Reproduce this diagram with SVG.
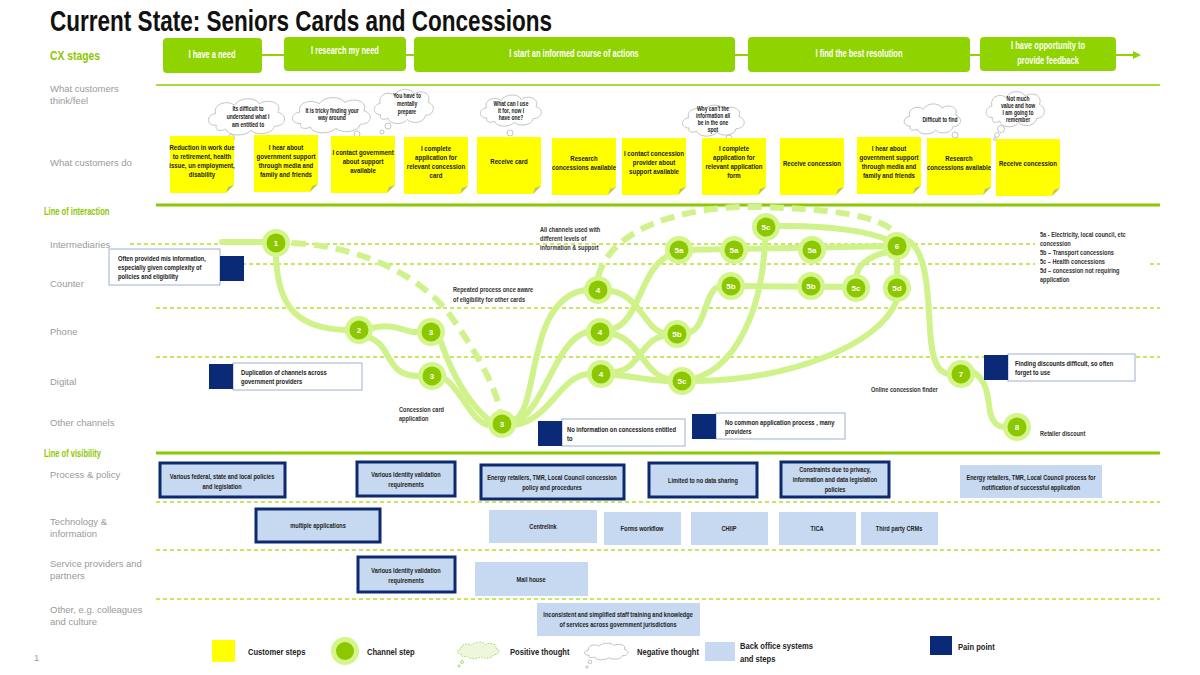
<svg xmlns="http://www.w3.org/2000/svg" xmlns:xlink="http://www.w3.org/1999/xlink" width="1200" height="675" viewBox="0 0 1200 675">
<style>
text{font-family:"Liberation Sans",Arial,sans-serif}
.c{transform-box:fill-box;transform-origin:50% 50%}
.l{transform-box:fill-box;transform-origin:0% 50%}
.title{font-size:29px;font-weight:bold;fill:#111}
.stage{fill:#8fd400}
.st{font-size:10px;font-weight:bold;fill:#fff;text-anchor:middle;transform:scaleX(.75)}
.lbl{font-size:9.5px;fill:#9a9a9a}
.glbl{font-size:10.5px;font-weight:bold;fill:#8cc800;transform:scaleX(.72)}
.note{fill:#ffff00}
.fold{fill:#b9c46a}
.nt{font-size:8px;font-weight:bold;fill:#222;text-anchor:middle;transform:scaleX(.76)}
.cloud{fill:#fff;stroke:#c4c4c4;stroke-width:1}
.ct{font-size:6.4px;font-weight:bold;fill:#222;text-anchor:middle;transform:scaleX(.78)}
.dash{stroke:#b6e02c;stroke-width:1.3;stroke-dasharray:4 3;fill:none}
.ch{fill:none;stroke:#d0f28a;stroke-width:6;stroke-linecap:round}
.chd{fill:none;stroke:#d0f28a;stroke-width:6;stroke-dasharray:14 8}
.ring{fill:#d4f58c}
.core{fill:#8cc800}
.nl{font-size:8px;font-weight:bold;fill:#fff;text-anchor:middle}
.pp{fill:#0a2a78}
.ppbox{fill:#fff;stroke:#9fb0cf;stroke-width:1}
.pt{font-size:7px;font-weight:bold;fill:#222;transform:scaleX(.83)}
.bo{fill:#c6d9f1}
.bob{fill:#c6d9f1;stroke:#0d2a6e;stroke-width:3}
.bt{font-size:7px;font-weight:bold;fill:#222;text-anchor:middle;transform:scaleX(.8)}
.ann{font-size:7px;font-weight:bold;fill:#333;transform:scaleX(.8)}
.lg{font-size:9.5px;font-weight:bold;fill:#222;transform:scaleX(.8)}
.bub{fill:#fff;stroke:#c4c4c4;stroke-width:1}
</style>
<defs>
<path id="cloudp" vector-effect="non-scaling-stroke" d="M15 45 C2 45 2 30 14 28 C10 14 28 8 36 16 C42 4 62 4 66 14 C76 6 94 12 88 26 C100 30 98 46 84 46 C82 58 62 60 56 52 C48 62 28 60 26 50 C20 54 12 52 15 45 Z"/>
<g id="note"><path class="note" d="M0 0 H64 V49 L56 57 H0 Z"/><path class="fold" d="M56 57 L64 49 L58 51 Z"/></g>
<g id="node"><circle class="ring" r="14"/><circle class="core" r="9.5"/></g>
</defs>

<g id="header">
<text class="title" x="50" y="31" textLength="502" lengthAdjust="spacingAndGlyphs">Current State: Seniors Cards and Concessions</text>
<text x="50" y="60" font-size="12" font-weight="bold" fill="#8cc800" textLength="50" lengthAdjust="spacingAndGlyphs">CX stages</text>
</g>

<g id="stages">
<line x1="262" y1="55" x2="284" y2="55" stroke="#8fd400" stroke-width="2"/>
<line x1="406" y1="55" x2="414" y2="55" stroke="#8fd400" stroke-width="2"/>
<line x1="735" y1="55" x2="748" y2="55" stroke="#8fd400" stroke-width="2"/>
<line x1="970" y1="55" x2="980" y2="55" stroke="#8fd400" stroke-width="2"/>
<line x1="1116" y1="55" x2="1134" y2="55" stroke="#8fd400" stroke-width="2"/>
<polygon points="1133,51 1141,55 1133,59" fill="#8fd400"/>
<g id="stage1"><rect class="stage" x="163" y="38" width="99" height="35" rx="4"/><text class="st c" x="212" y="58">I have a need</text></g>
<g id="stage2"><rect class="stage" x="284" y="37" width="122" height="34" rx="4"/><text class="st c" x="345" y="54">I research my need</text></g>
<g id="stage3"><rect class="stage" x="414" y="37" width="321" height="35" rx="4"/><text class="st c" x="574" y="57">I start an informed course of actions</text></g>
<g id="stage4"><rect class="stage" x="748" y="37" width="222" height="35" rx="4"/><text class="st c" x="859" y="57">I find the best resolution</text></g>
<g id="stage5"><rect class="stage" x="980" y="37" width="136" height="34" rx="4"/><text class="st c" x="1048" y="49">I have opportunity to</text><text class="st c" x="1048" y="64">provide feedback</text></g>
</g>

<g id="lanes">
<line x1="156" y1="85" x2="1160" y2="85" stroke="#a8dc3c" stroke-width="2"/>
<line x1="156" y1="205" x2="1160" y2="205" stroke="#8cc800" stroke-width="3"/>
<line x1="156" y1="453" x2="1160" y2="453" stroke="#8cc800" stroke-width="3"/>
<path class="dash" d="M130 244 H1035 M130 264 H1035 M1150 264 H1160 M156 308 H1160 M156 357 H1160 M156 502 H1160 M156 550 H1160 M156 599 H1160"/>
<text class="lbl" x="50" y="92">What customers</text>
<text class="lbl" x="50" y="104">think/feel</text>
<text class="lbl" x="50" y="166">What customers do</text>
<text class="glbl l" x="44" y="215">Line of interaction</text>
<text class="lbl" x="50" y="248">Intermediaries</text>
<text class="lbl" x="50" y="287">Counter</text>
<text class="lbl" x="50" y="335">Phone</text>
<text class="lbl" x="50" y="385">Digital</text>
<text class="lbl" x="50" y="426">Other channels</text>
<text class="glbl l" x="44" y="457">Line of visibility</text>
<text class="lbl" x="50" y="478">Process &amp; policy</text>
<text class="lbl" x="50" y="525">Technology &amp;</text>
<text class="lbl" x="50" y="537">information</text>
<text class="lbl" x="50" y="567">Service providers and</text>
<text class="lbl" x="50" y="579">partners</text>
<text class="lbl" x="50" y="613">Other, e.g. colleagues</text>
<text class="lbl" x="50" y="625">and culture</text>
<text class="lbl" x="34" y="661" font-size="8">1</text>
</g>

<g id="thoughts">
<g id="cloud1"><use href="#cloudp" class="cloud" transform="translate(204,94) scale(0.84,0.7)"/><circle class="bub" cx="231" cy="138" r="3.5"/><circle class="bub" cx="227" cy="144" r="2.3"/>
<text class="ct c" x="248" y="111">Its difficult to</text><text class="ct c" x="248" y="119">understand what I</text><text class="ct c" x="248" y="127">am entitled to</text></g>
<g id="cloud2"><use href="#cloudp" class="cloud" transform="translate(288,93) scale(0.86,0.68)"/><circle class="bub" cx="357" cy="134" r="3"/><circle class="bub" cx="363" cy="139" r="2"/><circle class="bub" cx="367" cy="143" r="1.4"/>
<text class="ct c" x="332" y="113">It is tricky finding your</text><text class="ct c" x="332" y="120">way around</text></g>
<g id="cloud3"><use href="#cloudp" class="cloud" transform="translate(371,85) scale(0.65,0.66)"/><circle class="bub" cx="388" cy="126" r="3"/><circle class="bub" cx="382" cy="132" r="2"/><circle class="bub" cx="378" cy="138" r="1.4"/>
<text class="ct c" x="407" y="98">You have to</text><text class="ct c" x="407" y="106">mentally</text><text class="ct c" x="407" y="114">prepare</text></g>
<g id="cloud4"><use href="#cloudp" class="cloud" transform="translate(477,91) scale(0.67,0.6)"/><circle class="bub" cx="510" cy="133" r="3"/><circle class="bub" cx="510" cy="140" r="2"/><circle class="bub" cx="510" cy="146" r="1.4"/>
<text class="ct c" x="511" y="106">What can I use</text><text class="ct c" x="511" y="113">it for, now I</text><text class="ct c" x="511" y="120">have one?</text></g>
<g id="cloud5"><use href="#cloudp" class="cloud" transform="translate(679,101) scale(0.68,0.6)"/><circle class="bub" cx="729" cy="138" r="3"/><circle class="bub" cx="734" cy="142" r="2"/><circle class="bub" cx="737" cy="146" r="1.4"/>
<text class="ct c" x="713" y="111">Why can't the</text><text class="ct c" x="713" y="118">information all</text><text class="ct c" x="713" y="125">be in the one</text><text class="ct c" x="713" y="132">spot</text></g>
<g id="cloud6"><use href="#cloudp" class="cloud" transform="translate(901,100) scale(0.62,0.58)"/><circle class="bub" cx="955" cy="135" r="3"/><circle class="bub" cx="958" cy="140" r="2"/><circle class="bub" cx="962" cy="143" r="1.4"/>
<text class="ct c" x="940" y="122">Difficult to find</text></g>
<g id="cloud7"><use href="#cloudp" class="cloud" transform="translate(983,87) scale(0.64,0.68)"/><circle class="bub" cx="1001" cy="129" r="3.5"/><circle class="bub" cx="997" cy="135" r="2.3"/><circle class="bub" cx="995" cy="139" r="1.4"/>
<text class="ct c" x="1018" y="101">Not much</text><text class="ct c" x="1018" y="108">value and how</text><text class="ct c" x="1018" y="115">I am going to</text><text class="ct c" x="1018" y="122">remember</text></g>
</g>

<g id="steps">
<g id="step1"><use href="#note" x="170" y="136"/><text class="nt c" x="202" y="150">Reduction in work due</text><text class="nt c" x="202" y="159">to retirement, health</text><text class="nt c" x="202" y="168">issue, un employment,</text><text class="nt c" x="202" y="177">disability</text></g>
<g id="step2"><use href="#note" x="254" y="135"/><text class="nt c" x="286" y="150">I hear about</text><text class="nt c" x="286" y="159">government support</text><text class="nt c" x="286" y="168">through media and</text><text class="nt c" x="286" y="177">family and friends</text></g>
<g id="step3"><use href="#note" x="331" y="136"/><text class="nt c" x="363" y="155">I contact government</text><text class="nt c" x="363" y="164">about support</text><text class="nt c" x="363" y="173">available</text></g>
<g id="step4"><use href="#note" x="404" y="137"/><text class="nt c" x="436" y="151">I complete</text><text class="nt c" x="436" y="160">application for</text><text class="nt c" x="436" y="169">relevant concession</text><text class="nt c" x="436" y="178">card</text></g>
<g id="step5"><use href="#note" x="477" y="137"/><text class="nt c" x="509" y="164">Receive card</text></g>
<g id="step6"><use href="#note" x="552" y="138"/><text class="nt c" x="584" y="161">Research</text><text class="nt c" x="584" y="170">concessions available</text></g>
<g id="step7"><use href="#note" x="622" y="138"/><text class="nt c" x="654" y="156">I contact concession</text><text class="nt c" x="654" y="165">provider about</text><text class="nt c" x="654" y="174">support available</text></g>
<g id="step8"><use href="#note" x="702" y="138"/><text class="nt c" x="734" y="151">I complete</text><text class="nt c" x="734" y="160">application for</text><text class="nt c" x="734" y="169">relevant application</text><text class="nt c" x="734" y="178">form</text></g>
<g id="step9"><use href="#note" x="780" y="138"/><text class="nt c" x="812" y="166">Receive concession</text></g>
<g id="step10"><use href="#note" x="857" y="137"/><text class="nt c" x="889" y="151">I hear about</text><text class="nt c" x="889" y="160">government support</text><text class="nt c" x="889" y="169">through media and</text><text class="nt c" x="889" y="178">family and friends</text></g>
<g id="step11"><use href="#note" x="927" y="138"/><text class="nt c" x="959" y="161">Research</text><text class="nt c" x="959" y="170">concessions available</text></g>
<g id="step12"><use href="#note" x="996" y="139"/><text class="nt c" x="1028" y="166">Receive concession</text></g>
</g>

<g id="connectors">
<path class="ch" d="M222 242 L262 242"/>
<path class="chd" d="M292 243 C360 246 420 275 450 315 C475 350 495 385 500 410"/>
<path class="ch" d="M276 257 C278 310 300 328 345 330"/>
<path class="ch" d="M372 328 C395 322 405 333 417 332"/>
<path class="ch" d="M370 338 C392 345 385 376 418 376"/>
<path class="ch" d="M441 342 C452 375 470 405 489 420"/>
<path class="ch" d="M444 378 C462 390 470 420 488 425"/>
<path class="ch" d="M514 420 C540 410 525 300 585 290"/>
<path class="ch" d="M514 423 C545 410 555 340 587 332"/>
<path class="ch" d="M514 425 C550 420 560 376 588 374"/>
<path class="chd" d="M598 277 C610 230 680 205 760 207 C830 209 880 215 895 233"/>
<path class="ch" d="M611 291 C640 295 645 330 664 333"/>
<path class="ch" d="M613 329 C640 320 640 270 668 256"/>
<path class="ch" d="M613 334 C640 340 645 376 669 379"/>
<path class="ch" d="M614 372 C640 370 640 340 664 336"/>
<path class="ch" d="M614 375 C640 377 650 381 669 381"/>
<path class="ch" d="M679 250 L897 246"/>
<path class="ch" d="M690 332 C705 328 705 292 718 287"/>
<path class="ch" d="M731 286 L856 287"/>
<path class="ch" d="M765 240 C763 300 740 375 682 381"/>
<path class="ch" d="M779 226 C830 225 870 232 888 240"/>
<path class="ch" d="M888 252 C868 256 858 266 857 274"/>
<path class="ch" d="M897 259 L897 274"/>
<path class="ch" d="M695 381 C790 380 880 345 897 300"/>
<path class="ch" d="M909 241 C926 252 928 290 930 330 C932 362 938 372 948 374"/>
<path class="ch" d="M973 372 C988 380 988 400 990 412 C993 424 998 427 1005 427"/>
</g>

<g id="channels">
<g id="n1" transform="translate(276,243)"><use href="#node"/><text class="nl" y="3">1</text></g>
<g id="n2" transform="translate(359,330)"><use href="#node"/><text class="nl" y="3">2</text></g>
<g id="n3a" transform="translate(431,332)"><use href="#node"/><text class="nl" y="3">3</text></g>
<g id="n3b" transform="translate(432,376)"><use href="#node"/><text class="nl" y="3">3</text></g>
<g id="n3c" transform="translate(502,424)"><use href="#node"/><text class="nl" y="3">3</text></g>
<g id="n4a" transform="translate(598,290)"><use href="#node"/><text class="nl" y="3">4</text></g>
<g id="n4b" transform="translate(600,332)"><use href="#node"/><text class="nl" y="3">4</text></g>
<g id="n4c" transform="translate(601,374)"><use href="#node"/><text class="nl" y="3">4</text></g>
<g id="n5a1" transform="translate(679,250)"><use href="#node"/><text class="nl" y="3">5a</text></g>
<g id="n5a2" transform="translate(734,250)"><use href="#node"/><text class="nl" y="3">5a</text></g>
<g id="n5a3" transform="translate(812,250)"><use href="#node"/><text class="nl" y="3">5a</text></g>
<g id="n5c1" transform="translate(766,227)"><use href="#node"/><text class="nl" y="3">5c</text></g>
<g id="n6" transform="translate(897,246)"><use href="#node"/><text class="nl" y="3">6</text></g>
<g id="n5b1" transform="translate(731,286)"><use href="#node"/><text class="nl" y="3">5b</text></g>
<g id="n5b2" transform="translate(811,286)"><use href="#node"/><text class="nl" y="3">5b</text></g>
<g id="n5c2" transform="translate(856,288)"><use href="#node"/><text class="nl" y="3">5c</text></g>
<g id="n5d" transform="translate(897,288)"><use href="#node"/><text class="nl" y="3">5d</text></g>
<g id="n5b3" transform="translate(677,334)"><use href="#node"/><text class="nl" y="3">5b</text></g>
<g id="n5c3" transform="translate(682,381)"><use href="#node"/><text class="nl" y="3">5c</text></g>
<g id="n7" transform="translate(961,374)"><use href="#node"/><text class="nl" y="3">7</text></g>
<g id="n8" transform="translate(1017,427)"><use href="#node"/><text class="nl" y="3">8</text></g>
</g>

<g id="annotations">
<text class="ann l" x="540" y="232">All channels used with</text>
<text class="ann l" x="540" y="241">different levels of</text>
<text class="ann l" x="540" y="250">information &amp; support</text>
<text class="ann l" x="453" y="292">Repeated process once aware</text>
<text class="ann l" x="453" y="302">of eligibility for other cards</text>
<text class="ann l" x="399" y="412">Concession card</text>
<text class="ann l" x="399" y="421">application</text>
<text class="ann l" x="871" y="392">Online concession finder</text>
<text class="ann l" x="1040" y="436">Retailer discount</text>
<text class="ann l" x="1040" y="237">5a - Electricity, local council, etc</text>
<text class="ann l" x="1040" y="246">concession</text>
<text class="ann l" x="1040" y="255">5b – Transport concessions</text>
<text class="ann l" x="1040" y="264">5c – Health concessions</text>
<text class="ann l" x="1040" y="273">5d – concession not requiring</text>
<text class="ann l" x="1040" y="282">application</text>
</g>

<g id="painpoints">
<g id="pp1"><rect class="ppbox" x="109" y="249" width="111" height="36"/><rect class="pp" x="220" y="256" width="24" height="25"/>
<text class="pt l" x="118" y="261">Often provided mis information,</text><text class="pt l" x="118" y="270">especially given complexity of</text><text class="pt l" x="118" y="279">policies and eligibility</text></g>
<g id="pp2"><rect class="ppbox" x="233" y="363" width="129" height="27"/><rect class="pp" x="209" y="364" width="24" height="25"/>
<text class="pt l" x="241" y="375">Duplication of channels across</text><text class="pt l" x="241" y="384">government providers</text></g>
<g id="pp3"><rect class="ppbox" x="562" y="419" width="123" height="27"/><rect class="pp" x="538" y="421" width="24" height="25"/>
<text class="pt l" x="567" y="432">No information on concessions entitled</text><text class="pt l" x="567" y="441">to</text></g>
<g id="pp4"><rect class="ppbox" x="716" y="413" width="129" height="26"/><rect class="pp" x="692" y="414" width="24" height="25"/>
<text class="pt l" x="725" y="425">No common application process , many</text><text class="pt l" x="725" y="434">providers</text></g>
<g id="pp5"><rect class="ppbox" x="1008" y="354" width="127" height="27"/><rect class="pp" x="984" y="355" width="24" height="25"/>
<text class="pt l" x="1015" y="366">Finding discounts difficult, so often</text><text class="pt l" x="1015" y="375">forget to use</text></g>
</g>

<g id="backoffice">
<g id="b1"><rect class="bob" x="160" y="463" width="125" height="34"/><text class="bt c" x="222" y="479">Various federal, state and local policies</text><text class="bt c" x="222" y="489">and legislation</text></g>
<g id="b2"><rect class="bob" x="357" y="462" width="98" height="34"/><text class="bt c" x="406" y="477">Various Identity validation</text><text class="bt c" x="406" y="487">requirements</text></g>
<g id="b3"><rect class="bob" x="481" y="465" width="143" height="34"/><text class="bt c" x="552" y="480">Energy retailers, TMR, Local Council  concession</text><text class="bt c" x="552" y="490">policy and procedures</text></g>
<g id="b4"><rect class="bob" x="649" y="463" width="108" height="34"/><text class="bt c" x="703" y="483">Limited to no data sharing</text></g>
<g id="b5"><rect class="bob" x="781" y="462" width="108" height="35"/><text class="bt c" x="835" y="472">Constraints due to privacy,</text><text class="bt c" x="835" y="482">information and data legislation</text><text class="bt c" x="835" y="492">policies</text></g>
<g id="b6"><rect class="bo" x="960" y="465" width="142" height="33"/><text class="bt c" x="1031" y="480">Energy retailers, TMR, Local Council  process for</text><text class="bt c" x="1031" y="490">notification of successful application</text></g>
<g id="b7"><rect class="bob" x="256" y="509" width="124" height="33"/><text class="bt c" x="318" y="528">multiple applications</text></g>
<g id="b8"><rect class="bo" x="489" y="510" width="108" height="33"/><text class="bt c" x="543" y="529">Centrelink</text></g>
<g id="b9"><rect class="bo" x="604" y="512" width="77" height="33"/><text class="bt c" x="642" y="531">Forms workflow</text></g>
<g id="b10"><rect class="bo" x="691" y="512" width="77" height="33"/><text class="bt c" x="729" y="531">CHIIP</text></g>
<g id="b11"><rect class="bo" x="779" y="512" width="77" height="33"/><text class="bt c" x="817" y="531">TICA</text></g>
<g id="b12"><rect class="bo" x="861" y="512" width="77" height="33"/><text class="bt c" x="899" y="531">Third party CRMs</text></g>
<g id="b13"><rect class="bob" x="358" y="557" width="97" height="35"/><text class="bt c" x="406" y="573">Various Identity validation</text><text class="bt c" x="406" y="583">requirements</text></g>
<g id="b14"><rect class="bo" x="475" y="562" width="113" height="34"/><text class="bt c" x="531" y="582">Mail house</text></g>
<g id="b15"><rect class="bo" x="537" y="603" width="163" height="33"/><text class="bt c" x="618" y="617">Inconsistent and simplified  staff training and knowledge</text><text class="bt c" x="618" y="627">of services across government jurisdictions</text></g>
</g>

<g id="legend">
<rect x="212" y="640" width="23" height="22" fill="#ffff00"/>
<text class="lg l" x="248" y="655">Customer steps</text>
<circle cx="345" cy="651" r="14" class="ring"/><circle cx="345" cy="651" r="9" class="core"/>
<text class="lg l" x="367" y="655">Channel step</text>
<use href="#cloudp" transform="translate(455,640) scale(0.46,0.32)" fill="#eef7dc" stroke="#a9d66a" stroke-width="1" stroke-dasharray="1.5 1.5"/>
<circle cx="462" cy="662" r="1.6" fill="#eef7dc" stroke="#a9d66a" stroke-width="0.8"/><circle cx="459" cy="666" r="1.1" fill="#eef7dc" stroke="#a9d66a" stroke-width="0.8"/>
<text class="lg l" x="510" y="655">Positive thought</text>
<use href="#cloudp" transform="translate(582,641) scale(0.48,0.32)" class="cloud"/>
<circle cx="590" cy="662" r="1.8" class="bub"/><circle cx="587" cy="667" r="1.2" class="bub"/>
<text class="lg l" x="637" y="655">Negative thought</text>
<rect x="705" y="642" width="30" height="19" class="bo"/>
<text class="lg l" x="740" y="649">Back office systems</text>
<text class="lg l" x="740" y="662">and steps</text>
<rect x="930" y="636" width="22" height="19" class="pp"/>
<text class="lg l" x="958" y="650">Pain point</text>
</g>
</svg>
